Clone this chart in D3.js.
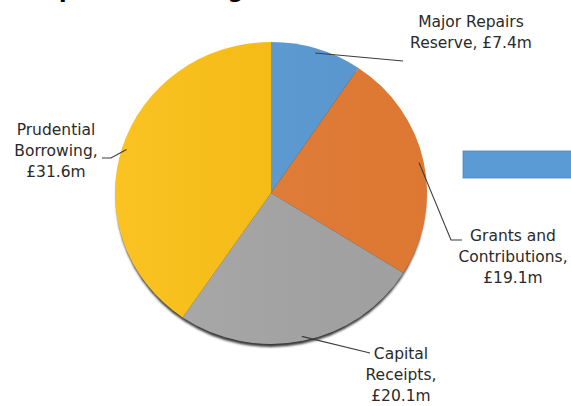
<!DOCTYPE html>
<html>
<head>
<meta charset="utf-8">
<script src="https://cdn.jsdelivr.net/npm/d3@7"></script>
<style>
  body { margin: 0; background: #fff; }
  svg { display: block; }
  text { font-family: "DejaVu Sans", Verdana, sans-serif; }
</style>
</head>
<body>
<div class="graphics"></div>
<script>
// datos del grafico
var categories = ["Major Repairs Reserve", "Grants and Contributions", "Capital Receipts", "Prudential Borrowing"];
var values = [7.4, 19.1, 20.1, 31.6];
var labelLines = [
  ["Major Repairs", "Reserve, £7.4m"],
  ["Grants and", "Contributions,", "£19.1m"],
  ["Capital", "Receipts,", "£20.1m"],
  ["Prudential", "Borrowing,", "£31.6m"]
];
var colors = ["#5b9bd5", "#e47c34", "#a5a5a5", "#fbbf12"];

var w = 571, h = 406;
var cx = 271, cy = 193, r = 156, sy = 151 / 156;

// donde va cada etiqueta (centro x, primera linea base y) y el final de la linea guia
var labelPos = [[471, 27], [513, 241], [401, 359], [56, 135]];
var leaderEnd = [
  [[403, 61]],
  [[451, 240], [462, 240]],
  [[370, 353]],
  [[111, 158], [102, 158]]
];

var svg = d3.select(".graphics").append("svg")
  .attr("width", w).attr("height", h);

var defs = svg.append("defs");
var f = defs.append("filter").attr("id", "shadow")
  .attr("x", "-10%").attr("y", "-10%").attr("width", "120%").attr("height", "130%");
f.append("feGaussianBlur").attr("stdDeviation", 1.2);

var g1 = defs.append("linearGradient").attr("id", "shade")
  .attr("x1", "0%").attr("y1", "0%").attr("x2", "100%").attr("y2", "0%");
g1.append("stop").attr("offset", "0%").attr("stop-color", "#fff").attr("stop-opacity", 0.07);
g1.append("stop").attr("offset", "100%").attr("stop-color", "#000").attr("stop-opacity", 0.03);

// titulo (cortado arriba)
svg.append("text")
  .attr("x", 28).attr("y", -2)
  .attr("font-size", 22).attr("font-weight", "bold")
  .attr("fill", "#000")
  .text("Capital Financing");

// rectangulo azul a la derecha (cortado)
svg.append("rect")
  .attr("x", 463).attr("y", 151).attr("width", 120).attr("height", 27)
  .attr("fill", "#5b9bd5").attr("stroke", "#4a86bd").attr("stroke-width", 0.8);

var pie = d3.pie().sort(null).value(function(d){ return d; });
var arcs = pie(values);
var arc = d3.arc().innerRadius(0).outerRadius(r);

var pg = svg.append("g")
  .attr("transform", "translate(" + cx + "," + cy + ") scale(1," + sy + ")");

// sombra
pg.append("circle")
  .attr("cx", 0).attr("cy", 4).attr("r", r - 1)
  .attr("fill", "#3a3a3a")
  .attr("filter", "url(#shadow)");

pg.selectAll("path.slice")
  .data(arcs)
  .enter()
  .append("path")
  .attr("class", "slice")
  .attr("d", arc)
  .attr("fill", function(d, i){ return colors[i]; });

pg.append("circle")
  .attr("r", r).attr("fill", "url(#shade)");

// lineas guia
arcs.forEach(function(d, i){
  var a = (d.startAngle + d.endAngle) / 2;
  var start = [cx + Math.sin(a) * r * 0.97, cy - Math.cos(a) * r * 0.97 * sy];
  var pts = [start].concat(leaderEnd[i]);
  svg.append("path")
    .attr("d", d3.line()(pts))
    .attr("fill", "none")
    .attr("stroke", "#3b3b3b")
    .attr("stroke-width", 1.1);

  var t = svg.append("text")
    .attr("text-anchor", "middle")
    .attr("font-size", 15.5)
    .attr("fill", "#2a2a2a");
  labelLines[i].forEach(function(s, j){
    t.append("tspan")
      .attr("x", labelPos[i][0])
      .attr("y", labelPos[i][1] + j * 21)
      .text(s);
  });
});
</script>
</body>
</html>
